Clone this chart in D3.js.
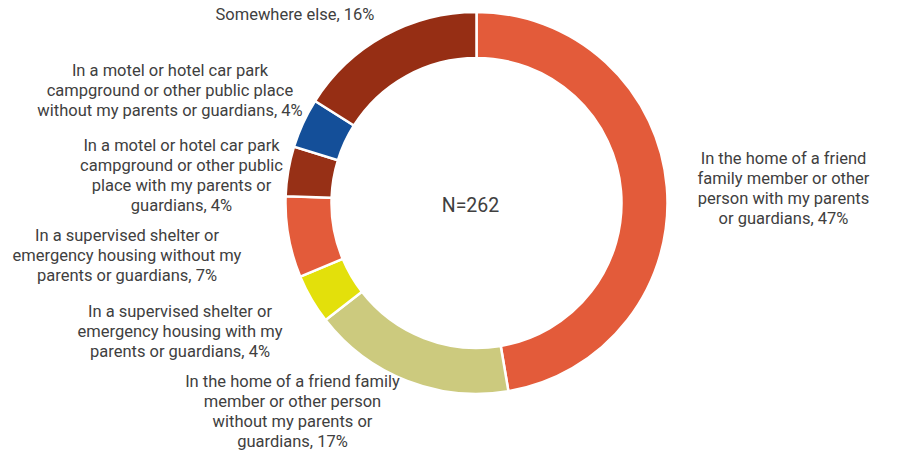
<!DOCTYPE html>
<html>
<head>
<meta charset="utf-8">
<script src="https://cdn.jsdelivr.net/npm/d3@7"></script>
<style>
  html, body { margin: 0; padding: 0; background: #fff; }
  svg { display: block; font-family: Roboto, "Noto Sans", sans-serif; }
</style>
</head>
<body>
<svg id="chart" width="903" height="450"></svg>
<script>
// ---- data (counts, N = 262) ----
const categories = [
  "In the home of a friend family member or other person with my parents or guardians",
  "In the home of a friend family member or other person without my parents or guardians",
  "In a supervised shelter or emergency housing with my parents or guardians",
  "In a supervised shelter or emergency housing without my parents or guardians",
  "In a motel or hotel car park campground or other public place with my parents or guardians",
  "In a motel or hotel car park campground or other public place without my parents or guardians",
  "Somewhere else"
];
const counts = [124, 45, 11, 18, 11, 11, 42];
const percentLabels = ["47%", "17%", "4%", "7%", "4%", "4%", "16%"];
const labelLines = [
  ["In the home of a friend", "family member or other", "person with my parents", "or guardians, 47%"],
  ["In the home of a friend family", "member or other person", "without my parents or", "guardians, 17%"],
  ["In a supervised shelter or", "emergency housing with my", "parents or guardians, 4%"],
  ["In a supervised shelter or", "emergency housing without my", "parents or guardians, 7%"],
  ["In a motel or hotel car park", "campground or other public", "place with my parents or", "guardians, 4%"],
  ["In a motel or hotel car park", "campground or other public place", "without my parents or guardians, 4%"],
  ["Somewhere else, 16%"]
];
const totalLabel = "N=262";

// ---- styles / layout (kept apart from data) ----
const colors = ["#E35B3A", "#CCCA7E", "#E3E00B", "#E35B3A", "#973016", "#144F99", "#962E14"];
const labelAnchors = [
  [783.5, 158.5], [292.5, 381.7], [180, 311.7], [127, 235],
  [181.5, 145.7], [170, 70.7], [295, 14.5]
];
const cx = 476.5, cy = 203, rOuter = 191, rInner = 145, lineH = 20;

const svg = d3.select("#chart");
const g = svg.append("g").attr("transform", `translate(${cx},${cy})`);

const pie = d3.pie().sort(null).value(d => d)(counts);
const arc = d3.arc().innerRadius(rInner).outerRadius(rOuter);

g.selectAll("path.slice").data(pie).join("path")
  .attr("class", "slice")
  .attr("d", arc)
  .attr("fill", (d, i) => colors[i])
  .attr("stroke", "#fff")
  .attr("stroke-width", 2.5);

g.append("text")
  .attr("x", -6).attr("y", 2)
  .attr("text-anchor", "middle")
  .attr("dominant-baseline", "central")
  .attr("font-size", 19.5)
  .attr("fill", "#404040")
  .text(totalLabel);

const labels = svg.selectAll("text.lbl").data(labelLines).join("text")
  .attr("class", "lbl")
  .attr("text-anchor", "middle")
  .attr("font-size", 16.5)
  .attr("fill", "#404040");

labels.each(function(lines, i) {
  const t = d3.select(this);
  lines.forEach((ln, k) => {
    t.append("tspan")
      .attr("x", labelAnchors[i][0])
      .attr("y", labelAnchors[i][1] + k * lineH)
      .attr("dominant-baseline", "central")
      .text(ln);
  });
});
</script>
</body>
</html>
